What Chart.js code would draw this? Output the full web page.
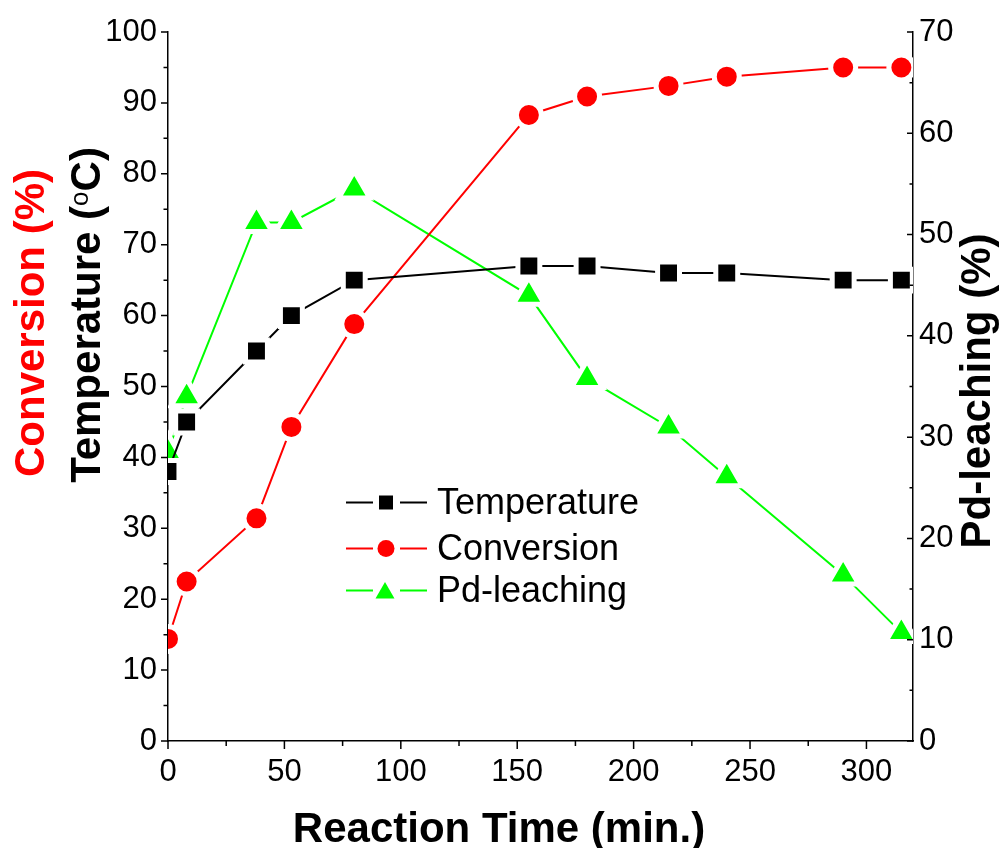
<!DOCTYPE html>
<html>
<head>
<meta charset="utf-8">
<script src="https://cdn.jsdelivr.net/npm/chart.js@4/dist/chart.umd.min.js"></script>
<style>
  body { margin: 0; background: #fff; }
  #wrap { width: 1001px; height: 848px; }
</style>
</head>
<body>
<div id="wrap"><canvas id="chart" width="1001" height="848"></canvas></div>
<script>
// values
const times = [0, 8, 38, 53, 80, 155, 180, 215, 240, 290, 315];
const temperature = [38, 45, 55, 60, 65, 67, 67, 66, 66, 65, 65];
const conversion = [14.4, 22.5, 31.4, 44.3, 58.8, 88.3, 90.9, 92.4, 93.7, 95.0, 95.0];
const leaching = [28.5, 34.0, 51.2, 51.2, 54.5, 44.0, 35.8, 31.0, 26.1, 16.4, 10.7];

const seriesNames = ['Temperature', 'Conversion', 'Pd-leaching'];
const seriesColors = ['#000000', '#ff0000', '#00ff00'];
const xTicks = [0, 50, 100, 150, 200, 250, 300];
const yTicks = [0, 10, 20, 30, 40, 50, 60, 70, 80, 90, 100];
const y2Ticks = [0, 10, 20, 30, 40, 50, 60, 70];
const xTitle = 'Reaction Time (min.)';
const FONT = '"Liberation Sans", Arial, sans-serif';

const pts = (ys) => times.map((t, i) => ({ x: t, y: ys[i] }));

function drawTicks(ctx, a, scale, from, to, step, majorEvery, side, majLen, minLen) {
    ctx.beginPath();
    for (let v = from; v <= to + 1e-9; v += step) {
        const len = (Math.round(v / step) % (majorEvery / step) === 0) ? majLen : minLen;
        const p = scale.getPixelForValue(v);
        if (side === 'bottom') { ctx.moveTo(p, a.bottom); ctx.lineTo(p, a.bottom + len); }
        if (side === 'left') { ctx.moveTo(a.left, p); ctx.lineTo(a.left - len, p); }
        if (side === 'right') { ctx.moveTo(a.right, p); ctx.lineTo(a.right - len, p); }
    }
    ctx.stroke();
}

// rotated text made of parts, reading bottom to top
function drawVertical(ctx, parts, bx, cy, color) {
    ctx.save();
    ctx.translate(bx, cy);
    ctx.rotate(-Math.PI / 2);
    ctx.fillStyle = color;
    ctx.textBaseline = 'alphabetic';
    ctx.textAlign = 'left';
    let w = 0;
    parts.forEach(p => { ctx.font = p.font; w += ctx.measureText(p.t).width; });
    let x = -w / 2;
    parts.forEach(p => {
        ctx.font = p.font;
        ctx.fillText(p.t, x, p.dy || 0);
        x += ctx.measureText(p.t).width;
    });
    ctx.restore();
}

const decor = {
    id: 'decor',
    afterDraw(c) {
        const ctx = c.ctx;
        const a = c.chartArea;
        const { x, y, y2 } = c.scales;
        ctx.save();
        ctx.strokeStyle = '#000';
        ctx.lineWidth = 1.5;
        drawTicks(ctx, a, x, 0, 300, 25, 50, 'bottom', 8, 5);
        drawTicks(ctx, a, y, 0, 100, 5, 10, 'left', 7, 4.5);
        drawTicks(ctx, a, y2, 0, 70, 5, 10, 'right', 6, 3.5);

        // axis titles
        ctx.fillStyle = '#000';
        ctx.font = 'bold 42px ' + FONT;
        ctx.textAlign = 'center';
        ctx.textBaseline = 'alphabetic';
        ctx.fillText(xTitle, 499, 842);

        const bold = 'bold 42px ' + FONT;
        drawVertical(ctx, [{ t: 'Conversion (%)', font: bold }], 44, 323, '#ff0000');
        drawVertical(ctx, [
            { t: 'Temperature (', font: bold },
            { t: 'o', font: '26px ' + FONT, dy: -12 },
            { t: 'C)', font: bold }
        ], 100, 315, '#000');
        drawVertical(ctx, [{ t: 'Pd-leaching (%)', font: bold }], 990, 391, '#000');

        // legend
        const baselines = [514, 560, 602];
        c.data.datasets.forEach((ds, i) => {
            const ly = baselines[i] - 11.5;
            const col = ds.backgroundColor;
            ctx.strokeStyle = col;
            ctx.lineWidth = 2;
            ctx.beginPath();
            ctx.moveTo(346, ly); ctx.lineTo(373, ly);
            ctx.moveTo(400, ly); ctx.lineTo(427, ly);
            ctx.stroke();
            ctx.fillStyle = col;
            ctx.beginPath();
            if (ds.pointStyle === 'rect') ctx.rect(379, ly - 7, 14, 14);
            if (ds.pointStyle === 'circle') ctx.arc(386, ly, 8.5, 0, Math.PI * 2);
            if (ds.pointStyle === 'triangle') {
                ctx.moveTo(385, ly - 8.5); ctx.lineTo(394.5, ly + 8); ctx.lineTo(375.5, ly + 8);
                ctx.closePath();
            }
            ctx.fill();
            ctx.fillStyle = '#000';
            ctx.font = '36px ' + FONT;
            ctx.textAlign = 'left';
            ctx.fillText(ds.label, 437, baselines[i]);
        });
        ctx.restore();
    }
};

const tickFont = { family: FONT, size: 31 };
const setTicks = (vals) => (s) => { s.ticks = vals.map(v => ({ value: v })); };

const chart = new Chart(document.getElementById('chart').getContext('2d'), {
    type: 'line',
    data: {
        datasets: [
            { label: seriesNames[0], data: pts(temperature), yAxisID: 'y',
              borderColor: seriesColors[0], backgroundColor: seriesColors[0],
              pointStyle: 'rect', pointRadius: 15.5 },
            { label: seriesNames[1], data: pts(conversion), yAxisID: 'y',
              borderColor: seriesColors[1], backgroundColor: seriesColors[1],
              pointStyle: 'circle', pointRadius: 12.5 },
            { label: seriesNames[2], data: pts(leaching), yAxisID: 'y2',
              borderColor: seriesColors[2], backgroundColor: seriesColors[2],
              pointStyle: 'triangle', pointRadius: 18 }
        ].map(d => Object.assign(d, {
            borderWidth: 2,
            pointBackgroundColor: d.backgroundColor,
            pointBorderColor: '#ffffff',
            pointBorderWidth: 5,
            tension: 0,
            fill: false
        }))
    },
    options: {
        responsive: false,
        animation: false,
        layout: { padding: { top: 32, left: 0, right: 0, bottom: 0 } },
        plugins: { legend: { display: false }, tooltip: { enabled: false } },
        scales: {
            x: {
                type: 'linear', position: 'bottom', min: 0, max: 320,
                ticks: { stepSize: 50, includeBounds: false, font: tickFont, color: '#000', padding: 13, maxRotation: 0, autoSkip: false },
                grid: { drawOnChartArea: false, drawTicks: false },
                border: { color: '#000', width: 1.5 },
                afterBuildTicks: setTicks(xTicks),
                afterFit: s => { s.height = 107; }
            },
            y: {
                position: 'left', min: 0, max: 100,
                ticks: { stepSize: 10, font: tickFont, color: '#000', padding: 11, autoSkip: false },
                grid: { drawOnChartArea: false, drawTicks: false },
                border: { color: '#000', width: 1.5 },
                afterBuildTicks: setTicks(yTicks),
                afterFit: s => { s.width = 168; }
            },
            y2: {
                position: 'right', min: 0, max: 70,
                ticks: { stepSize: 10, font: tickFont, color: '#000', padding: 6, autoSkip: false },
                grid: { drawOnChartArea: false, drawTicks: false },
                border: { color: '#000', width: 1.5 },
                afterBuildTicks: setTicks(y2Ticks),
                afterFit: s => { s.width = 88; }
            }
        }
    },
    plugins: [decor]
});
</script>
</body>
</html>
